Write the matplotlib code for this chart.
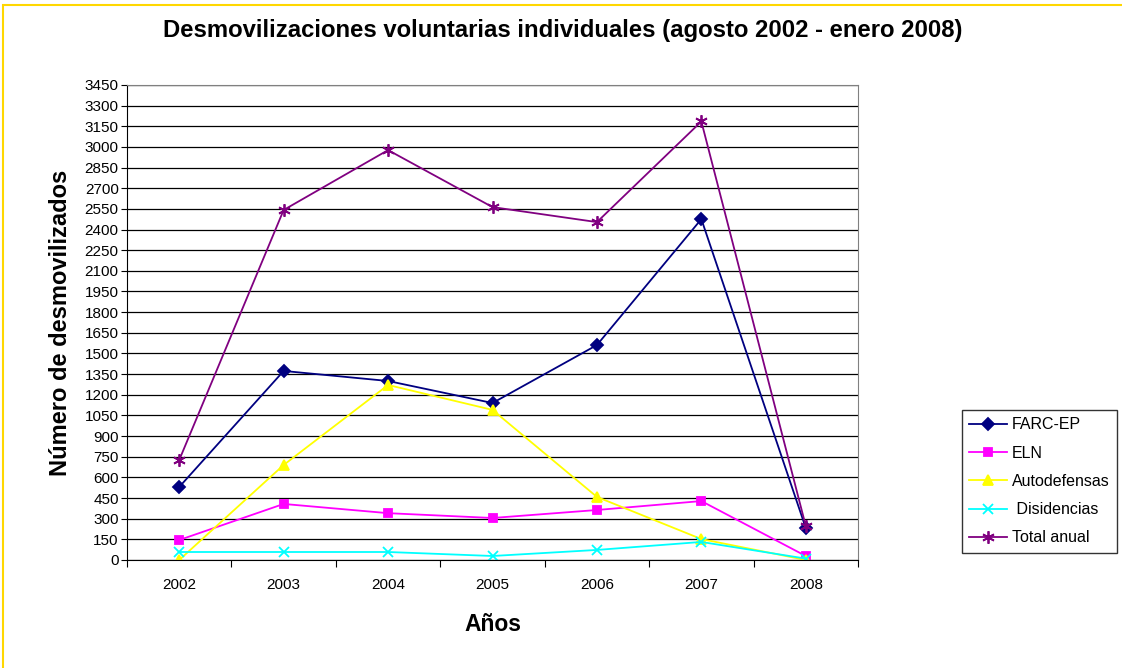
import matplotlib.pyplot as plt
import matplotlib.patches as patches

years = ['2002', '2003', '2004', '2005', '2006', '2007', '2008']
farc = [530, 1373, 1300, 1140, 1561, 2476, 232]
eln = [145, 407, 340, 305, 363, 428, 29]
autodefensas = [0, 690, 1271, 1090, 458, 152, 0]
disidencias = [58, 58, 58, 29, 73, 131, 10]
total = [726, 2542, 2977, 2563, 2454, 3185, 247]

plt.rcParams['font.family'] = ['Liberation Sans', 'DejaVu Sans']

fig = plt.figure(figsize=(11.22, 6.68), dpi=100)
ax = fig.add_axes([0.1132, 0.1617, 0.6515, 0.7111])

# outer chart border (only top and left visible)
fig.add_artist(patches.Rectangle((0.003, -0.05), 1.1, 1.042, transform=fig.transFigure,
                                 fill=False, edgecolor='#FFD700', linewidth=1.5))

x = list(range(len(years)))
series = [
    (farc, 'FARC-EP', '#000080', 'D', 6),
    (eln, 'ELN', '#FF00FF', 's', 6),
    (autodefensas, 'Autodefensas', '#FFFF00', '^', 7),
    (disidencias, ' Disidencias', '#00FFFF', 'x', 7),
    (total, 'Total anual', '#800080', (6, 2, 0), 9),
]
for vals, name, col, mk, ms in series:
    ax.plot(x, vals, color=col, marker=mk, markersize=ms, linewidth=1.3,
            label=name, markeredgecolor=col, markerfacecolor=col, markeredgewidth=1.3)

ax.set_xlim(-0.5, 6.5)
ax.set_ylim(0, 3450)
ax.set_yticks(range(0, 3451, 150))
ax.yaxis.grid(True, color='black', linewidth=0.9)
ax.set_axisbelow(True)

ax.set_xticks([i - 0.5 for i in range(8)])
ax.set_xticklabels([])
ax.set_xticks(x, minor=True)
ax.set_xticklabels(years, minor=True)
ax.tick_params(axis='x', which='major', length=5, direction='out', color='black')
ax.tick_params(axis='x', which='minor', length=0, pad=13, labelsize=11)
ax.tick_params(axis='y', length=4, direction='out', labelsize=11, pad=2)

for side in ['top', 'right']:
    ax.spines[side].set_color('#808080')
ax.spines['left'].set_color('black')
ax.spines['bottom'].set_color('black')

fig.text(0.502, 0.955, 'Desmovilizaciones voluntarias individuales (agosto 2002 - enero 2008)',
         fontsize=17.2, fontweight='bold', ha='center', va='center')
ax.set_xlabel('Años', fontsize=16.5, fontweight='bold', labelpad=15)
ax.set_ylabel('Número de desmovilizados', fontsize=17, fontweight='bold', labelpad=9)

leg = ax.legend(loc='upper left', bbox_to_anchor=(0.857, 0.386), bbox_transform=fig.transFigure,
                frameon=True, fancybox=False, edgecolor='black', fontsize=11.5,
                handlelength=2.4, handletextpad=0.3, labelspacing=0.83, borderpad=0.45,
                borderaxespad=0)
leg.get_frame().set_linewidth(1.0)

fig.savefig('out.png', dpi=100)
